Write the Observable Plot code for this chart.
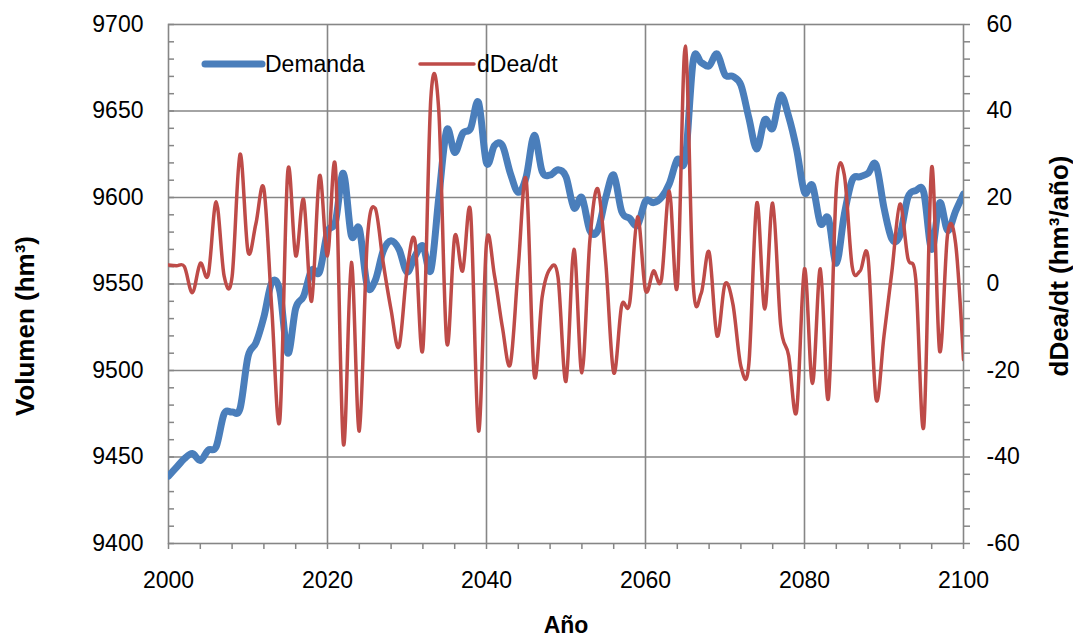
<!DOCTYPE html>
<html>
<head>
<meta charset="utf-8">
<script src="https://cdn.jsdelivr.net/npm/d3@7"></script>
<script src="https://cdn.jsdelivr.net/npm/@observablehq/plot@0.6"></script>
<style>
  body { margin: 0; background: #ffffff; }
  #chart { position: relative; width: 1073px; height: 644px; font-family: "Liberation Sans", Arial, sans-serif; }
  #legend { position: absolute; left: 0; top: 0; pointer-events: none; }
</style>
</head>
<body>
<div id="chart"></div>
<script>
// Annual series, 2000–2100
const firstYear = 2000;

// Demanda (hm³), left axis
const demanda = [
  9439, 9444, 9449, 9452, 9448, 9454, 9456, 9475, 9476, 9478,
  9508, 9516, 9531, 9551, 9546, 9510, 9536, 9543, 9558, 9557,
  9580, 9586, 9614, 9578, 9582, 9549, 9552, 9569, 9575, 9570,
  9557, 9566, 9572, 9558, 9600, 9639, 9626, 9637, 9640, 9655,
  9620, 9630, 9630, 9614, 9603, 9612, 9636, 9615, 9613, 9616,
  9612, 9594, 9600, 9581, 9581, 9600, 9613, 9592, 9588, 9584,
  9598, 9597, 9600, 9608, 9622, 9622, 9679, 9678, 9676, 9683,
  9671, 9670, 9665, 9646, 9628, 9645, 9640, 9659, 9647, 9628,
  9603, 9607, 9585, 9588, 9562, 9590, 9610, 9612, 9614, 9619,
  9594, 9576, 9578, 9600, 9604, 9603, 9570, 9597, 9581, 9592,
  9602
];

// dDea/dt (hm³/año), right axis
const dDeaDt = [
  4.4, 4.2, 4.0, -2.0, 4.8, 2.1, 19, 1.8, 1.7, 30,
  7.5, 14, 22, -6, -31.5, 26, 6.5, 19.5, -4, 25,
  6.5, 27, -37, 5, -34, 10, 17.5, 5, -6, -14.5,
  3, 10, -15, 43, 40, -13.5, 11, 3, 16.5, -34,
  9.5, 2, -10, -18.5, 4, 24, -21, -3, 3.5, 1.5,
  -22.5, 8, -20.5, 10, 22, 5, -20.5, -5, -4.5, 15.5,
  -1.5, 3, 1, 21.5, -0.5, 55, 0, -2.2, 7.4, -12,
  0, -4.7, -19, -18.5, 18.7, -5.8, 18.7, -9.5, -16.5, -29.5,
  3.5, -23, 3.5, -26.5, 22, 25.3, 4, 3, 6, -26.6,
  -12, 3, 18.5, 6, 1, -33, 27, -15.5, 11.5, 9.5,
  -17.5
];

// Axis ticks
const xTicks = [2000, 2020, 2040, 2060, 2080, 2100];
const xMinorTicks = [2000, 2004, 2008, 2012, 2016, 2020, 2024, 2028, 2032, 2036, 2040, 2044, 2048, 2052,
  2056, 2060, 2064, 2068, 2072, 2076, 2080, 2084, 2088, 2092, 2096, 2100];
const xGrid = [2020, 2040, 2060, 2080];
const leftTicks = [9400, 9450, 9500, 9550, 9600, 9650, 9700];
const leftGrid = [9450, 9500, 9550, 9600, 9650];
const leftMinorTicks = d3.range(9400, 9701, 10);
const rightTicks = [-60, -40, -20, 0, 20, 40, 60];
const rightMinorTicks = d3.range(-60, 61, 4);

const leftDomain = [9400, 9700];
const rightDomain = [-60, 60];

const blue = "#4a7ebb";
const red = "#be4b48";
const gray = "#868686";
const fontSize = 23;
const titleSize = 26;

const years = demanda.map((_, i) => firstYear + i);
const rows = years.map((year, i) => ({year, demanda: demanda[i], rate: dDeaDt[i]}));

// Right-axis values expressed in left-axis units
const toLeft = d3.scaleLinear(rightDomain, leftDomain);

const chart = Plot.plot({
  width: 1073,
  height: 644,
  marginLeft: 168,
  marginRight: 110,
  marginTop: 24,
  marginBottom: 101,
  x: {domain: [2000, 2100]},
  y: {domain: leftDomain},
  style: {fontFamily: '"Liberation Sans", Arial, sans-serif', fontSize: `${fontSize}px`, color: "#000", background: "#fff"},
  marks: [
    Plot.gridY(leftGrid, {stroke: gray, strokeOpacity: 1, strokeWidth: 1.6}),
    Plot.gridX(xGrid, {stroke: gray, strokeOpacity: 1, strokeWidth: 1.6}),
    Plot.frame({stroke: gray, strokeWidth: 1.6}),

    // left axis: minor ticks drawn inward, labels
    Plot.axisY(leftMinorTicks, {anchor: "left", tickSize: 6, dx: 6, fill: "none", stroke: gray, strokeWidth: 1.5, label: null}),
    Plot.axisY(leftTicks, {anchor: "left", tickSize: 0, tickPadding: 25, tickFormat: (d) => String(d), fill: "#000", label: null}),

    // right axis (dDea/dt)
    Plot.axisY(rightMinorTicks, {anchor: "right", y: toLeft, tickSize: 6, fill: "none", stroke: gray, strokeWidth: 1.5, label: null}),
    Plot.axisY(rightTicks, {anchor: "right", y: toLeft, tickSize: 0, tickPadding: 23, tickFormat: (d) => String(d), fill: "#000", label: null}),

    // x axis
    Plot.axisX(xMinorTicks, {anchor: "bottom", tickSize: 6, fill: "none", stroke: gray, strokeWidth: 1.5, label: null}),
    Plot.axisX(xTicks, {anchor: "bottom", tickSize: 0, tickPadding: 28, tickFormat: (d) => String(d), fill: "#000", label: null}),

    // series
    Plot.line(rows, {x: "year", y: "demanda", stroke: blue, strokeWidth: 7, curve: "cardinal", tension: 0, clip: true}),
    Plot.line(rows, {x: "year", y: (d) => toLeft(d.rate), stroke: red, strokeWidth: 3.5, curve: "cardinal", tension: 0, clip: true}),

    // axis titles
    Plot.text(["Volumen (hm³)"], {frameAnchor: "left", textAnchor: "middle", rotate: -90, dx: -143, dy: 42, fontWeight: "bold", fontSize: titleSize}),
    Plot.text(["dDea/dt (hm³/año)"], {frameAnchor: "right", textAnchor: "middle", rotate: -90, dx: 96, dy: -18, fontWeight: "bold", fontSize: titleSize}),
    Plot.text(["Año"], {frameAnchor: "bottom", textAnchor: "middle", dy: 89, fontWeight: "bold", fontSize: 23})
  ]
});

const container = document.getElementById("chart");
container.appendChild(chart);

// Legend inside the plot area
const legendItems = [
  {label: "Demanda", color: blue, width: 7, x1: 205, x2: 262},
  {label: "dDea/dt", color: red, width: 3.5, x1: 420, x2: 474}
];
const legend = d3.create("svg")
  .attr("id", "legend")
  .attr("width", 1073)
  .attr("height", 100);
const item = legend.selectAll("g").data(legendItems).join("g");
item.append("line")
  .attr("x1", (d) => d.x1).attr("x2", (d) => d.x2)
  .attr("y1", 64).attr("y2", 64)
  .attr("stroke", (d) => d.color)
  .attr("stroke-width", (d) => d.width)
  .attr("stroke-linecap", "round");
item.append("text")
  .attr("x", (d) => d.x2 + 3)
  .attr("y", 64)
  .attr("dy", "0.35em")
  .attr("font-family", '"Liberation Sans", Arial, sans-serif')
  .attr("font-size", fontSize)
  .attr("fill", "#000")
  .text((d) => d.label);
container.appendChild(legend.node());
</script>
</body>
</html>
